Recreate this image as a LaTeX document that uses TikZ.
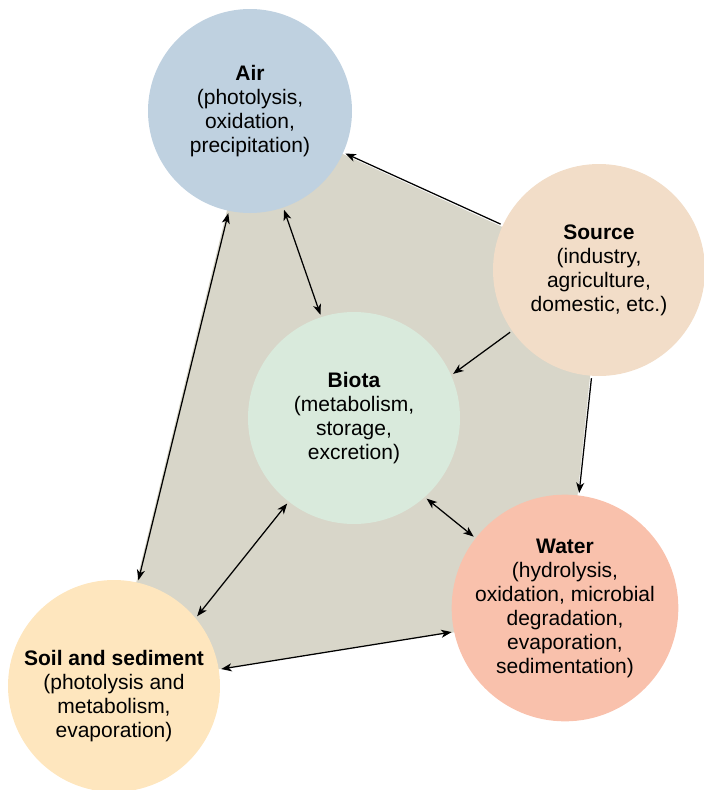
\documentclass[tikz,border=0pt]{standalone}
\usepackage{fontspec}
\setmainfont{Liberation Sans}
\usetikzlibrary{arrows.meta}
\definecolor{aircol}{HTML}{BFD1E0}
\definecolor{srccol}{HTML}{F2DDC8}
\definecolor{biocol}{HTML}{D9EADC}
\definecolor{watcol}{HTML}{F9C1AC}
\definecolor{soilcol}{HTML}{FEE6BE}
\definecolor{polycol}{HTML}{D8D6C9}
\begin{document}
\begin{tikzpicture}[x=1pt,y=-1pt,
  txt/.style={align=center, inner sep=0pt, font=\fontsize{21}{24}\selectfont},
  bubble/.style={circle, minimum size=212pt, inner sep=0pt, outer sep=2.5pt, txt},
  tip/.tip={Stealth[length=10.5pt,width=8pt,inset=3pt]},
  conn/.style={line width=1.25pt, -tip},
  dconn/.style={line width=1.25pt, tip-tip}]
\useasboundingbox (0,0) rectangle (704,790);
\coordinate (pA) at (251,112);
\coordinate (pS) at (601,272);
\coordinate (pW) at (565,615);
\coordinate (pL) at (111,686);
\fill[polycol] (pA) -- (pS) -- (pW) -- (pL) -- cycle;
\node[bubble, fill=aircol, minimum size=204pt] (air) at (250,111)
  {\textbf{Air}\\(photolysis,\\oxidation,\\precipitation)};
\node[bubble, fill=srccol] (src) at (599,270)
  {\textbf{Source}\\(industry,\\agriculture,\\domestic, etc.)};
\node[bubble, fill=biocol] (biota) at (354,418)
  {\textbf{Biota}\\(metabolism,\\storage,\\excretion)};
\node[bubble, fill=watcol] (water) at (565,608)
  {\textbf{Water}\\(hydrolysis,\\oxidation, microbial\\degradation,\\evaporation,\\sedimentation)};
\node[bubble, fill=soilcol] (soil) at (114,686) {};
\node[txt] (soiltext) at (114,696)
  {\textbf{Soil and sediment}\\(photolysis and\\metabolism,\\evaporation)};
\draw[conn] (src.155.9) -- (air.-24.8);
\draw[dconn] (air.-102.8) -- (soil.77.8);
\draw[dconn] (air.-71.9) -- (biota.108.3);
\draw[conn] (src.215.9) -- (biota.24.4);
\draw[conn] (src.-94.8) -- (water.83.7);
\draw[dconn] (biota.-48.3) -- (water.142.8);
\draw[dconn] (biota.-128.7) -- (soil.40.5);
\draw[dconn] (soil.9.1) -- (water.192.6);
\end{tikzpicture}
\end{document}
